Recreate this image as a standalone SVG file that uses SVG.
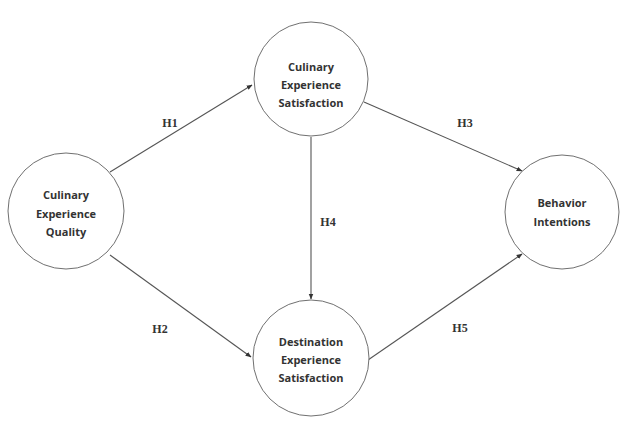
<svg xmlns="http://www.w3.org/2000/svg" width="622" height="423" viewBox="0 0 622 423">
<style>
.node circle{fill:#fff;stroke:#707070;stroke-width:1}
.node text{font-family:"Open Sans","Liberation Sans",sans-serif;font-weight:bold;font-size:11px;fill:#333;text-anchor:middle}
.edge line{stroke:#555;stroke-width:1.1;marker-end:url(#ah)}
.lbl{font-family:"Liberation Serif",serif;font-weight:bold;font-size:12px;fill:#333;text-anchor:middle}
</style>
<defs>
<marker id="ah" viewBox="0 0 10 10" refX="9" refY="5" markerWidth="6" markerHeight="6" orient="auto" markerUnits="userSpaceOnUse">
<path d="M0,1 L10,5 L0,9 z" fill="#333"/>
</marker>
</defs>
<rect width="622" height="423" fill="#fff"/>
<g id="connectors" class="edge">
<line x1="110" y1="172" x2="252" y2="85"/>
<line x1="110" y1="255" x2="251" y2="357"/>
<line x1="364" y1="102" x2="522" y2="171"/>
<line x1="311" y1="137" x2="311" y2="299"/>
<line x1="368" y1="360" x2="522" y2="254"/>
<text class="lbl" x="170" y="127">H1</text>
<text class="lbl" x="160" y="333">H2</text>
<text class="lbl" x="465" y="127">H3</text>
<text class="lbl" x="328" y="226">H4</text>
<text class="lbl" x="460" y="332">H5</text>
</g>
<g id="n-ceq" class="node">
<circle cx="66" cy="211" r="58"/>
<text x="66" y="199">Culinary</text>
<text x="66" y="218">Experience</text>
<text x="66" y="236">Quality</text>
</g>
<g id="n-ces" class="node">
<circle cx="311" cy="79" r="57"/>
<text x="311" y="71">Culinary</text>
<text x="311" y="89">Experience</text>
<text x="311" y="107">Satisfaction</text>
</g>
<g id="n-des" class="node">
<circle cx="311" cy="358" r="58"/>
<text x="311" y="346">Destination</text>
<text x="311" y="364">Experience</text>
<text x="311" y="382">Satisfaction</text>
</g>
<g id="n-bi" class="node">
<circle cx="562" cy="212" r="57"/>
<text x="562" y="207">Behavior</text>
<text x="562" y="226">Intentions</text>
</g>
</svg>
